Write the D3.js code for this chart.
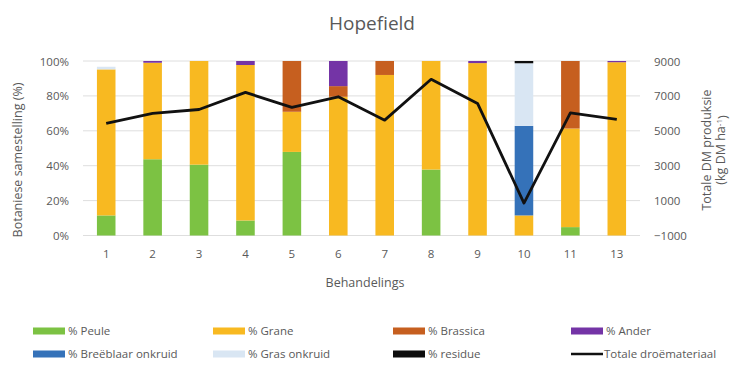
<!DOCTYPE html>
<html>
<head>
<meta charset="utf-8">
<script src="https://cdn.jsdelivr.net/npm/d3@7"></script>
<style>
  html, body { margin: 0; padding: 0; background: #fff; }
  svg text { font-family: "Open Sans", "Noto Sans", sans-serif; fill: #595959; }
</style>
</head>
<body>
<svg id="chart" width="732" height="365"></svg>
<script>
// Treatments (Behandelings)
const categories = ["1", "2", "3", "4", "5", "6", "7", "8", "9", "10", "11", "13"];

// Botanical composition (%) per treatment
const peule      = [11.5, 43.7, 40.6,  8.6, 47.9,  0.0,  0.0, 37.8,  0.0,  0.0,  4.8,  0.0];
const grane      = [83.7, 55.3, 59.4, 89.1, 23.0, 79.5, 92.0, 62.2, 98.8, 11.5, 56.5, 99.3];
const brassica   = [ 0.0,  0.0,  0.0,  0.0, 29.1,  6.1,  8.0,  0.0,  0.0,  0.0, 38.7,  0.0];
const ander      = [ 0.0,  1.0,  0.0,  2.3,  0.0, 14.4,  0.0,  0.0,  1.2,  0.0,  0.0,  0.7];
const breeblaar  = [ 0.0,  0.0,  0.0,  0.0,  0.0,  0.0,  0.0,  0.0,  0.0, 51.3,  0.0,  0.0];
const grasOnkr   = [ 1.5,  0.0,  0.0,  0.0,  0.0,  0.0,  0.0,  0.0,  0.0, 35.9,  0.0,  0.0];
const residue    = [ 0.0,  0.0,  0.0,  0.0,  0.0,  0.0,  0.0,  0.0,  0.0,  1.3,  0.0,  0.0];

// Total dry matter production (kg DM/ha)
const totalDM    = [5420, 6000, 6220, 7200, 6340, 6950, 5610, 7950, 6570, 860, 6030, 5650];

// Axis ticks
const pctTicks = [0, 20, 40, 60, 80, 100];
const dmTicks  = [-1000, 1000, 3000, 5000, 7000, 9000];

const seriesNames  = ["% Peule", "% Grane", "% Brassica", "% Ander", "% Breëblaar onkruid", "% Gras onkruid", "% residue"];
const seriesValues = [peule, grane, brassica, ander, breeblaar, grasOnkr, residue];
const seriesColors = ["#7cc243", "#f8b921", "#c65f1f", "#7434a6", "#3572b9", "#d9e6f3", "#0d0d0d"];
const lineName = "Totale droëmateriaal";

const svg = d3.select("#chart");

const x = d3.scaleBand().domain(categories).range([83, 640]).paddingInner(0.6).paddingOuter(0.3);
const y = d3.scaleLinear().domain([0, 100]).range([235.5, 61]);
const y2 = d3.scaleLinear().domain([-1000, 9000]).range([235.5, 61]);

// Gridlines
svg.append("g").selectAll("line").data(pctTicks).join("line")
  .attr("x1", 83).attr("x2", 640)
  .attr("y1", d => y(d)).attr("y2", d => y(d))
  .attr("stroke", "#dedede").attr("stroke-width", 1);

// Stacked bars
const rows = categories.map((c, i) => {
  const r = { cat: c };
  seriesNames.forEach((n, k) => r[n] = seriesValues[k][i]);
  return r;
});
const stacked = d3.stack().keys(seriesNames)(rows);

svg.append("g").selectAll("g").data(stacked).join("g")
  .attr("fill", (d, k) => seriesColors[k])
  .selectAll("rect").data(d => d).join("rect")
  .attr("x", d => x(d.data.cat))
  .attr("width", x.bandwidth())
  .attr("y", d => y(d[1]))
  .attr("height", d => Math.max(0, y(d[0]) - y(d[1])));

// Total DM line
const line = d3.line()
  .x((d, i) => x(categories[i]) + x.bandwidth() / 2)
  .y(d => y2(d));
svg.append("path").datum(totalDM)
  .attr("d", line)
  .attr("fill", "none")
  .attr("stroke", "#111")
  .attr("stroke-width", 2.8)
  .attr("stroke-linejoin", "round");

// Left axis
const yAxis = d3.axisLeft(y).tickValues(pctTicks).tickFormat(d => d + "%").tickSize(0).tickPadding(0);
const gy = svg.append("g").attr("transform", "translate(69,0)").call(yAxis);
gy.select(".domain").remove();
gy.selectAll("text").style("font-size", "11.5px").attr("dy", "0.35em");

// Right axis
const y2Axis = d3.axisRight(y2).tickValues(dmTicks).tickFormat(d3.format("d")).tickSize(0).tickPadding(0);
const gy2 = svg.append("g").attr("transform", "translate(654,0)").call(y2Axis);
gy2.select(".domain").remove();
gy2.selectAll("text").style("font-size", "11.5px").attr("dy", "0.35em");

// Bottom axis
const xAxis = d3.axisBottom(x).tickSize(0).tickPadding(0);
const gx = svg.append("g").attr("transform", "translate(0,250)").call(xAxis);
gx.select(".domain").remove();
gx.selectAll("text").style("font-size", "11.5px").attr("dy", "0.71em");

// Titles
svg.append("text").attr("x", 372).attr("y", 30).attr("text-anchor", "middle")
  .style("font-size", "19px").text("Hopefield");

svg.append("text").attr("x", 365).attr("y", 287).attr("text-anchor", "middle")
  .style("font-size", "12.5px").text("Behandelings");

svg.append("text").attr("transform", "translate(22,160) rotate(-90)").attr("text-anchor", "middle")
  .style("font-size", "12.5px").text("Botaniese samestelling (%)");

const rt = svg.append("text").attr("transform", "translate(711,150) rotate(-90)").attr("text-anchor", "middle")
  .style("font-size", "12.5px");
rt.append("tspan").attr("x", 0).attr("dy", 0).text("Totale DM produksie");
const t2 = rt.append("tspan").attr("x", 0).attr("dy", "1.1em").text("(kg DM ha");
t2.append("tspan").attr("dy", "-0.4em").style("font-size", "8px").text("-1");
t2.append("tspan").attr("dy", "0.4em").text(")");

// Legend
const legendItems = seriesNames.map((n, k) => ({ name: n, color: seriesColors[k], type: "rect" }));
legendItems.push({ name: lineName, color: "#111", type: "line" });
const colX = [33, 213, 393, 571];
const rowY = [331, 354];
const lg = svg.append("g").selectAll("g").data(legendItems).join("g")
  .attr("transform", (d, i) => `translate(${colX[i % 4]},${rowY[Math.floor(i / 4)]})`);
lg.filter(d => d.type === "rect").append("rect")
  .attr("x", 0).attr("y", -3.5).attr("width", 32).attr("height", 7).attr("fill", d => d.color);
lg.filter(d => d.type === "line").append("line")
  .attr("x1", 0).attr("x2", 32).attr("y1", 0).attr("y2", 0)
  .attr("stroke", d => d.color).attr("stroke-width", 2.5);
lg.append("text").attr("x", d => d.type === "line" ? 33 : 35).attr("y", 0).attr("dy", "0.35em")
  .style("font-size", "11.5px").text(d => d.name);
</script>
</body>
</html>
